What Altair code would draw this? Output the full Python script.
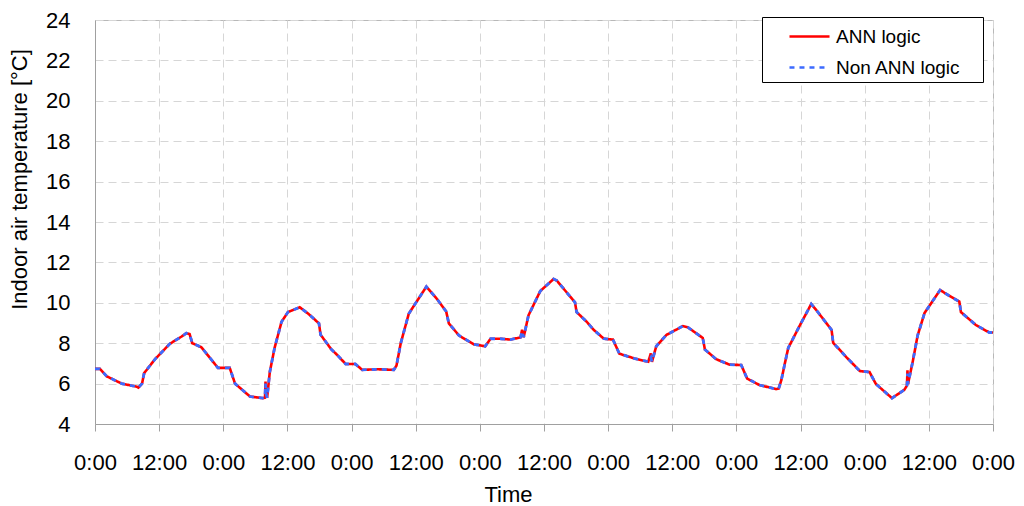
import altair as alt
import pandas as pd

# Hours since start (7 days, 0..168 h) and indoor air temperature [°C]
hours = [0, 0.9, 2.2, 5.0, 7.8, 8.1, 8.8, 9.2, 11.2, 14.0, 16.2, 17.1, 17.7, 18.2, 19.9,
         23.0, 25.2, 26.2, 29.0, 31.4, 31.8, 31.9, 32.0, 32.2, 32.7, 33.6, 34.9, 36.1,
         38.3, 39.9, 41.9, 42.2, 44.2, 45.3, 46.9, 48.7, 50.0, 52.8, 55.9, 56.4, 57.2,
         58.7, 62.0, 64.0, 65.7, 66.2, 68.1, 70.9, 73.0, 74.0, 75.8, 77.7, 79.6, 79.9,
         80.2, 81.1, 83.3, 85.8, 86.4, 89.8, 90.1, 92.0, 93.3, 95.2, 96.9, 98.1, 101.0,
         103.5, 104.0, 104.2, 105.0, 106.9, 110.0, 110.9, 113.7, 114.1, 116.2, 118.7,
         120.9, 122.0, 124.3, 127.4, 127.9, 128.4, 129.1, 129.7, 131.9, 134.0, 135.0,
         137.8, 138.1, 140.6, 143.1, 144.9, 146.1, 149.1, 151.4, 151.9, 152.0, 152.1,
         153.0, 153.9, 155.2, 158.1, 159.8, 161.7, 162.0, 164.8, 167.3, 168.0]

ann_logic = [6.73, 6.73, 6.36, 6.0, 5.85, 5.8, 6.0, 6.52, 7.2, 7.97, 8.33, 8.5, 8.45, 8.0, 7.8,
             6.78, 6.78, 6.0, 5.36, 5.28, 5.3, 6.1, 5.6, 5.3, 6.57, 7.77, 9.06, 9.54,
             9.78, 9.46, 8.98, 8.42, 7.7, 7.42, 6.97, 6.97, 6.68, 6.71, 6.68, 6.89, 8.0,
             9.46, 10.8, 10.18, 9.57, 8.98, 8.38, 7.94, 7.85, 8.22, 8.22, 8.18, 8.29, 8.66,
             8.3, 9.38, 10.58, 11.18, 11.1, 10.02, 9.54, 9.06, 8.66, 8.22, 8.18, 7.48, 7.24,
             7.08, 7.5, 7.08, 7.85, 8.41, 8.85, 8.79, 8.26, 7.69, 7.21, 6.94,
             6.92, 6.25, 5.93, 5.73, 5.75, 6.17, 7.05, 7.77, 8.9, 9.94, 9.62,
             8.66, 8.02, 7.3, 6.62, 6.57, 5.98, 5.28, 5.69, 5.9, 6.66, 5.98,
             7.11, 8.38, 9.5, 10.63, 10.35, 10.06, 9.54, 8.9, 8.53, 8.53]

non_ann_logic = [6.73, 6.73, 6.36, 6.0, 5.85, 5.8, 6.0, 6.52, 7.2, 7.97, 8.33, 8.5, 8.45, 8.0, 7.8,
                 6.78, 6.78, 6.0, 5.36, 5.28, 5.3, 6.0, 5.5, 5.3, 6.57, 7.77, 9.06, 9.54,
                 9.78, 9.46, 8.98, 8.42, 7.7, 7.42, 6.97, 6.97, 6.68, 6.71, 6.68, 6.89, 8.0,
                 9.46, 10.8, 10.18, 9.57, 8.98, 8.38, 7.94, 7.85, 8.22, 8.22, 8.18, 8.29, 8.6,
                 8.3, 9.38, 10.58, 11.18, 11.1, 10.02, 9.54, 9.06, 8.66, 8.22, 8.18, 7.48, 7.24,
                 7.08, 7.3, 7.08, 7.85, 8.41, 8.85, 8.79, 8.26, 7.69, 7.21, 6.94,
                 6.92, 6.25, 5.93, 5.73, 5.75, 6.17, 7.05, 7.77, 8.9, 9.94, 9.62,
                 8.66, 8.02, 7.3, 6.62, 6.57, 5.98, 5.28, 5.69, 5.9, 6.5, 5.98,
                 7.11, 8.38, 9.5, 10.63, 10.35, 10.06, 9.54, 8.9, 8.53, 8.53]

series_names = ["ANN logic", "Non ANN logic"]
series_colors = ["#ff0000", "#3d6bff"]
x_ticks = [0, 12, 24, 36, 48, 60, 72, 84, 96, 108, 120, 132, 144, 156, 168]
y_ticks = [4, 6, 8, 10, 12, 14, 16, 18, 20, 22, 24]

rows = []
for i, h in enumerate(hours):
    rows.append({"hour": h, "temp": ann_logic[i], "series": series_names[0], "idx": i})
for i, h in enumerate(hours):
    rows.append({"hour": h, "temp": non_ann_logic[i], "series": series_names[1], "idx": i})
df = pd.DataFrame(rows)

FONT = "Liberation Sans"

x_enc = alt.X("hour:Q",
              scale=alt.Scale(domain=[0, 168], nice=False, zero=False),
              axis=alt.Axis(values=x_ticks, title="Time",
                            labelExpr="datum.value % 24 == 0 ? '0:00' : '12:00'",
                            labelFont=FONT, labelFontSize=22, labelColor="black",
                            labelPadding=21, tickSize=7, tickColor="#a0a0a0",
                            labelFlush=False, labelOverlap=False,
                            titleFont=FONT, titleFontSize=22, titleFontWeight="normal",
                            titleColor="black", titleX=413, titleY=70,
                            titleAlign="center", titleBaseline="middle",
                            domainColor="#a0a0a0",
                            grid=True, gridColor="#d6d6d6", gridDash=[8, 5]))
y_enc = alt.Y("temp:Q",
              scale=alt.Scale(domain=[4, 24], nice=False, zero=False),
              axis=alt.Axis(values=y_ticks, title="Indoor air temperature [°C]",
                            labelFont=FONT, labelFontSize=22, labelColor="black",
                            labelPadding=25, ticks=False, labelFlush=False,
                            labelOverlap=False,
                            titleFont=FONT, titleFontSize=22, titleFontWeight="normal",
                            titleColor="black", titleX=-76, titleY=159,
                            titleAlign="center", titleBaseline="middle",
                            domainColor="#a0a0a0",
                            grid=True, gridColor="#d6d6d6", gridDash=[8, 5]))

legend = alt.Legend(title=".", titleOrient="right", titleFontSize=8,
                    titleColor="rgba(255,255,255,0)", titlePadding=15,
                    orient="none", legendX=667, legendY=-3,
                    symbolType="M-1.43,0H1.43", symbolSize=784, symbolStrokeWidth=2.6,
                    symbolOffset=28, labelOffset=11,
                    labelFont=FONT, labelFontSize=19, labelColor="black",
                    rowPadding=5, padding=4, strokeColor="black", fillColor="white",
                    cornerRadius=0)

color_enc = alt.Color("series:N",
                      scale=alt.Scale(domain=series_names, range=series_colors),
                      legend=legend)
dash_enc = alt.StrokeDash("series:N",
                          scale=alt.Scale(domain=series_names, range=[[1, 0], [5, 5]]),
                          legend=legend)

base = alt.Chart(df)
red = base.transform_filter(alt.datum.series == series_names[0]).mark_line(
    strokeWidth=2.6).encode(x=x_enc, y=y_enc, color=color_enc, strokeDash=dash_enc,
                            order="idx:Q")
blue = base.transform_filter(alt.datum.series == series_names[1]).mark_line(
    strokeWidth=2.8).encode(x=x_enc, y=y_enc, color=color_enc, strokeDash=dash_enc,
                            order="idx:Q")

chart = alt.layer(red, blue).properties(
    width=898, height=404,
    autosize=alt.AutoSizeParams(type="none"),
    padding={"left": 87, "top": 12, "right": 23, "bottom": 82},
    background="white",
).configure_view(stroke="#b8b8b8")

chart.save("out.html", embed_options={"renderer": "svg", "actions": False})
